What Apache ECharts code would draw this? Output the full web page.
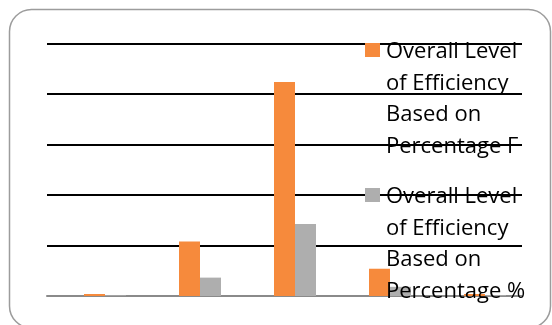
<!DOCTYPE html>
<html>
<head>
<meta charset="utf-8">
<script src="https://cdn.jsdelivr.net/npm/echarts@6/dist/echarts.min.js"></script>
<style>
  html, body { margin: 0; padding: 0; background: #fff; }
  #chart { width: 552px; height: 325px; }
</style>
</head>
<body>
<div id="chart"></div>
<script>
// Efficiency levels: frequency and percentage per category
const categories = ['1', '2', '3', '4', '5'];
const frequencyValues = [2, 54, 212, 27, 2];
const percentValues = [0.7, 18.2, 71.4, 9.1, 0.7];
const seriesNames = [
  'Overall Level\nof Efficiency\nBased on\nPercentage F',
  'Overall Level\nof Efficiency\nBased on\nPercentage %'
];
const valueTicks = { min: 0, max: 250, interval: 50 };

const ORANGE = '#F68A3C';
const GREY = '#AEAEAE';
const FONT = '"Open Sans", sans-serif';

const chart = echarts.init(document.getElementById('chart'), null, { renderer: 'canvas' });

function legendEntry(color, name, squareTop, textTop) {
  return [
    {
      type: 'rect', z: 100, silent: true,
      shape: { x: 365, y: squareTop, width: 15, height: 14 },
      style: { fill: color }
    },
    {
      type: 'text', z: 100, silent: true, x: 386, y: textTop,
      style: {
        text: name, fill: '#000', font: '22px ' + FONT,
        lineHeight: 31.7, verticalAlign: 'top', align: 'left'
      }
    }
  ];
}

chart.setOption({
  animation: false,
  backgroundColor: '#fff',
  grid: { left: 47, right: 30, top: 43.5, bottom: 29, containLabel: false },
  xAxis: {
    type: 'category', data: categories, z: 1,
    axisLine: { show: true, lineStyle: { color: '#8A8A8A', width: 2 } },
    axisTick: { show: false }, axisLabel: { show: false },
    splitLine: { show: false }
  },
  yAxis: {
    type: 'value', min: valueTicks.min, max: valueTicks.max, interval: valueTicks.interval, z: 0,
    axisLine: { show: false }, axisTick: { show: false }, axisLabel: { show: false },
    splitLine: { show: true, showMinLine: false, lineStyle: { color: '#000', width: 2 } }
  },
  series: [
    // empty first slot of each category group
    { type: 'bar', name: '', data: categories.map(() => null), barWidth: 21, barGap: '0%' },
    { type: 'bar', name: seriesNames[0], data: frequencyValues, barWidth: 21, barGap: '0%',
      itemStyle: { color: ORANGE } },
    { type: 'bar', name: seriesNames[1], data: percentValues, barWidth: 21, barGap: '0%',
      itemStyle: { color: GREY } }
  ],
  graphic: [
    {
      type: 'rect', z: 50, silent: true,
      shape: { x: 9.5, y: 9.5, width: 541, height: 318.5, r: 22 },
      style: { fill: null, stroke: '#9C9C9C', lineWidth: 1.5 }
    },
    ...legendEntry(ORANGE, seriesNames[0], 43, 35.9),
    ...legendEntry(GREY, seriesNames[1], 188, 180.9)
  ]
});
</script>
</body>
</html>
